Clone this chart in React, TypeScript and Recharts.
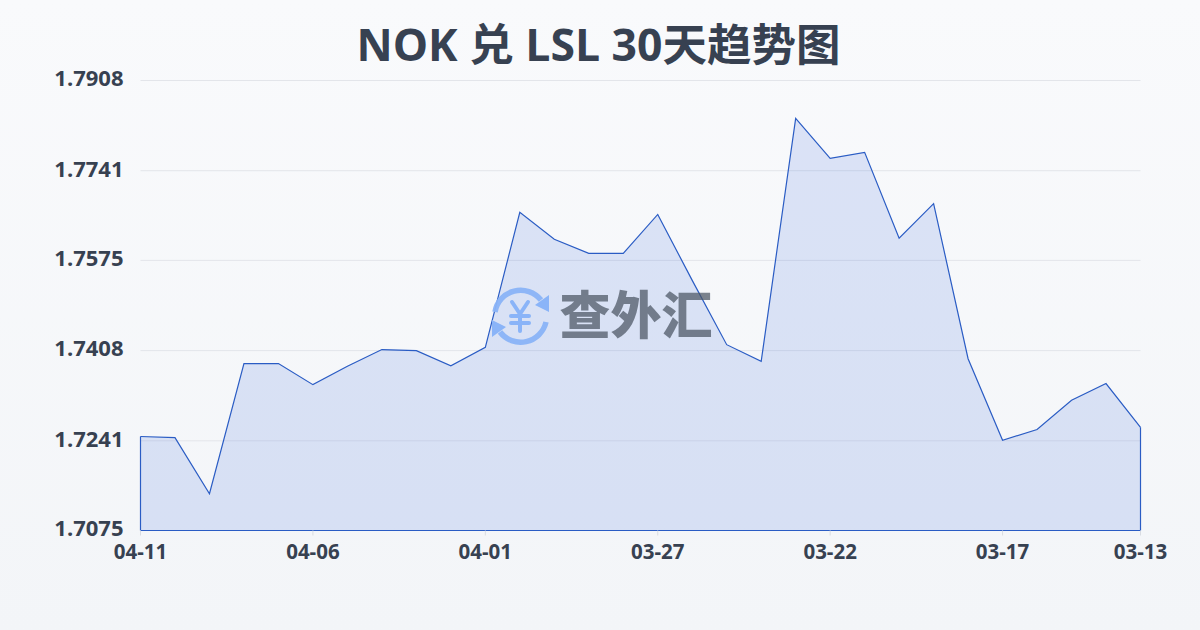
import React from "react";
import { AreaChart, Area, XAxis, YAxis, CartesianGrid, ReferenceLine } from "recharts";

const dates = ["04-11","04-10","04-09","04-08","04-07","04-06","04-05","04-04","04-03","04-02","04-01","03-31","03-30","03-29","03-28","03-27","03-26","03-25","03-24","03-23","03-22","03-21","03-20","03-19","03-18","03-17","03-16","03-15","03-14","03-13"];
const rates = [1.7249,1.7247,1.7143,1.7384,1.7384,1.7345,1.7379,1.7410,1.7408,1.7380,1.7414,1.7664,1.7614,1.7588,1.7588,1.7660,1.7538,1.7419,1.7388,1.7838,1.7764,1.7775,1.7616,1.7680,1.7393,1.7242,1.7262,1.7316,1.7347,1.7266];
const xTicks = ["04-11","04-06","04-01","03-27","03-22","03-17","03-13"];
const yTicks = [1.7075,1.7241,1.7408,1.7575,1.7741,1.7908];
const title = "NOK 兑 LSL 30天趋势图";
const watermark = "查外汇";
const baseRate = 1.7075;
const chartData = dates.map((date, i) => ({ date, rate: rates[i] }));

const LINE = "#2a5cc4";
const FONT = "'Open Sans', 'Noto Sans CJK SC', sans-serif";

function Watermark() {
  return (
    <svg width={1200} height={630} style={{ position: "absolute", left: 0, top: 0, pointerEvents: "none" }}>
      <g fill="none" stroke="#8ab4f8" strokeWidth={5.5} opacity={0.95}>
        <path d="M 495 312 A 26 26 0 0 1 541 300" />
        <path d="M 546 322 A 26 26 0 0 1 500 332" />
      </g>
      <polygon points="549,295 549,312 535,305" fill="#8ab4f8" />
      <polygon points="492,337 492,320 506,327" fill="#8ab4f8" />
      <g stroke="#8ab4f8" strokeWidth={4} fill="none" strokeLinecap="round">
        <path d="M 512 302 L 520 314 L 528 302" />
        <path d="M 511 316 L 529 316" />
        <path d="M 511 323 L 529 323" />
        <path d="M 520 314 L 520 331" />
      </g>
      <text x={636} y={334} textAnchor="middle" fontFamily="'Noto Sans CJK SC'" fontWeight={900} fontSize={51} fill="#4b5563" opacity={0.72}>{watermark}</text>
    </svg>
  );
}

export default function App() {
  return (
    <div style={{ position: "fixed", left: 0, top: 0, width: 1200, height: 630, overflow: "hidden", background: "linear-gradient(180deg, #f9fafc 0%, #f3f5f8 100%)", fontFamily: FONT }}>
      <div style={{ position: "absolute", left: 0, top: 14, width: 1197, textAlign: "center", fontFamily: FONT, fontWeight: 700, fontSize: 44.5, lineHeight: "60px", color: "#374151" }}>{title}</div>
      <AreaChart width={1200} height={630} data={chartData} margin={{ top: 80.5, right: 59.5, bottom: 0, left: 0 }} style={{ position: "absolute", left: 0, top: 0 }}>
        <CartesianGrid horizontal vertical={false} stroke="#e3e5ea" strokeWidth={1} />
        <XAxis dataKey="date" scale="point" padding={{ left: 0, right: 0 }} ticks={xTicks} interval={0} axisLine={false} tickSize={5} tickMargin={9} tickLine={{ stroke: "#d9dce2" }} tick={{ fill: "#374151", fontSize: 20.5, fontWeight: 700, fontFamily: FONT }} height={99.5} />
        <YAxis type="number" domain={[baseRate, 1.7908]} ticks={yTicks} interval={0} width={140.5} axisLine={false} tickLine={false} tickSize={0} tickMargin={17} tickFormatter={(v: number) => v.toFixed(4)} tick={{ fill: "#374151", fontSize: 22, fontWeight: 700, fontFamily: FONT, dy: -2 }} />
        <Area type="linear" dataKey="rate" stroke={LINE} strokeWidth={1.2} fill="#2a5fdc" fillOpacity={0.14} baseValue={baseRate} isAnimationActive={false} dot={false} activeDot={false} />
        <ReferenceLine segment={[{ x: dates[0], y: baseRate }, { x: dates[0], y: rates[0] }]} stroke={LINE} strokeWidth={1.2} ifOverflow="visible" />
        <ReferenceLine segment={[{ x: dates[29], y: baseRate }, { x: dates[29], y: rates[29] }]} stroke={LINE} strokeWidth={1.2} ifOverflow="visible" />
        <ReferenceLine y={baseRate} stroke={LINE} strokeWidth={1.2} ifOverflow="visible" />
      </AreaChart>
      <Watermark />
    </div>
  );
}
